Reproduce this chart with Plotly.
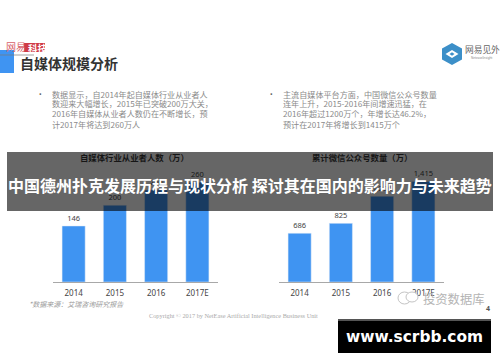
import plotly.graph_objects as go

W, H = 500, 362
years = ["2014", "2015", "2016", "2017E"]
practitioners = [146, 200, 240, 260]
wechat_accounts = [686, 825, 1206, 1415]
left_lines = ["数据显示，自2014年起自媒体行业从业者人", "数迎来大幅增长，2015年已突破200万大关，",
              "2016年自媒体从业者人数仍在不断增长，预", "计2017年将达到260万人"]
right_lines = ["主流自媒体平台方面，中国微信公众号数量", "连年上升，2015-2016年间增速迅猛，在",
               "2016年超过1200万个，年增长达46.2%，", "预计在2017年将增长到1415万个"]
BLUE = "#3f94f2"
CJK = "Noto Sans CJK SC"


def px(x):
    return x / W


def py(y):
    return 1 - y / H


fig = go.Figure()
fig.add_bar(x=years, y=practitioners, xaxis="x", yaxis="y", marker_color=BLUE,
            text=practitioners, textposition="outside", cliponaxis=False,
            textfont=dict(size=7.5, color="#444", family="Noto Sans"), hoverinfo="skip")
fig.add_bar(x=years, y=wechat_accounts, xaxis="x2", yaxis="y2", marker_color=BLUE,
            text=[f"{v:,}" for v in wechat_accounts], textposition="outside", cliponaxis=False,
            textfont=dict(size=7.5, color="#444", family="Noto Sans"), hoverinfo="skip")

ax = dict(type="category", showgrid=False, zeroline=False, showline=True, linecolor="#a8a8a8",
          linewidth=1, ticks="", tickfont=dict(size=8, color="#444", family="Noto Sans"),
          ticklabelstandoff=3)
ay = dict(visible=False, showgrid=False, zeroline=False)
fig.update_layout(
    width=W, height=H, autosize=False, margin=dict(l=0, r=0, t=0, b=0), showlegend=False,
    paper_bgcolor="white", plot_bgcolor="rgba(0,0,0,0)", bargap=0.44,
    xaxis={**ax, "domain": [px(53), px(218)], "anchor": "y"},
    xaxis2={**ax, "domain": [px(279), px(444)], "anchor": "y2"},
    yaxis={**ay, "domain": [py(282), py(150)], "range": [0, 344]},
    yaxis2={**ay, "domain": [py(282), py(150)], "range": [0, 1857]},
)

anns = []


def text(x, y, s, size, color, family=CJK, anchor="left", bold=False, italic=False):
    if bold:
        s = f"<b>{s}</b>"
    if italic:
        s = f"<i>{s}</i>"
    anns.append(dict(x=px(x), y=py(y), xref="paper", yref="paper", text=s, showarrow=False,
                     xanchor=anchor, yanchor="middle", align=anchor,
                     font=dict(size=size, color=color, family=family)))


text(18, 63, "自媒体规模分析", 14, "#333", bold=True)
text(4, 47, "网易", 10, "#d8616a")
text(25.5, 47.5, "科技", 9.5, "white", bold=True)
text(463, 50, "网易见外", 8.7, "#666")
text(469, 58, "NeteaseInsight", 3, "#888", family="Noto Sans")
for name, x, lines in (("l", 50, left_lines), ("r", 281, right_lines)):
    text(x - 13.5, 94, "•", 7, "#666", family="Noto Sans")
    for i, (y, line) in enumerate(zip([94, 104, 114, 124], lines)):
        text(x, y, line, 8.1, "#8a8a8a")
text(134, 157, "自媒体行业从业者人数（万）", 8.4, "#161616", anchor="center", bold=True)
text(362, 157, "累计微信公众号数量（万）", 8.4, "#161616", anchor="center", bold=True)
text(6, 185, "中国德州扑克发展历程与现状分析 探讨其在国内的影响力与未来趋势", 16, "white", bold=True)
text(27, 304, "*数据来源：艾瑞咨询研究报告", 7, "#9a9a9a", italic=True)
text(147, 315, "Copyright © 2017 by NetEase Artificial Intelligence Business Unit", 6.3, "#aaa",
     family="Liberation Serif")
text(421, 299, "投资数据库", 12.3, "#b4b4b4")
text(484, 308, "4", 7, "#555", family="Noto Sans", bold=True)
text(414.5, 337, "www.scrbb.com", 15.4, "white", family="DejaVu Sans", anchor="center", bold=True)
fig.update_layout(annotations=anns)


def rect(x0, y0, x1, y1, fill, layer="above"):
    return dict(type="rect", xref="paper", yref="paper", x0=px(x0), x1=px(x1), y0=py(y0), y1=py(y1),
                fillcolor=fill, line_width=0, layer=layer)


def poly(points, fill):
    path = "M" + " L".join(f"{px(a)},{py(b)}" for a, b in points) + " Z"
    return dict(type="path", xref="paper", yref="paper", path=path, fillcolor=fill, line_width=0, layer="above")


shapes = [
    rect(0, 50, 14, 73, "#3f94f2", "below"),
    rect(24, 43, 45, 52, "#cf3a45", "below"),
    rect(0, 54, 34, 56, "rgba(120,120,120,0.35)", "below"),
    poly([(452, 43), (462, 48.5), (462, 59.5), (452, 65), (442, 59.5), (442, 48.5)], "#3c8fc8"),
    poly([(445.5, 54), (452, 50), (458.5, 54), (452, 58)], "white"),
    poly([(449.5, 54), (452, 52.3), (454.5, 54), (452, 55.7)], "#3c8fc8"),
    rect(7, 152, 493, 211, "rgba(0,0,0,0.6)"),
    dict(type="circle", xref="paper", yref="paper", x0=px(398), x1=px(411), y0=py(304), y1=py(292),
         line=dict(color="#c4c4c4", width=1), fillcolor="rgba(255,255,255,0)", layer="above"),
    dict(type="circle", xref="paper", yref="paper", x0=px(406), x1=px(418), y0=py(302), y1=py(292),
         line=dict(color="#c4c4c4", width=1), fillcolor="white", layer="above"),
    rect(338, 319, 491, 353, "#000000"),
    rect(338, 319, 491, 321, "#555555"),
]
fig.update_layout(shapes=shapes)
fig.write_html("out.html", config={"displayModeBar": False},
               post_script="document.body.style.margin='0';document.documentElement.style.overflow='hidden';")
